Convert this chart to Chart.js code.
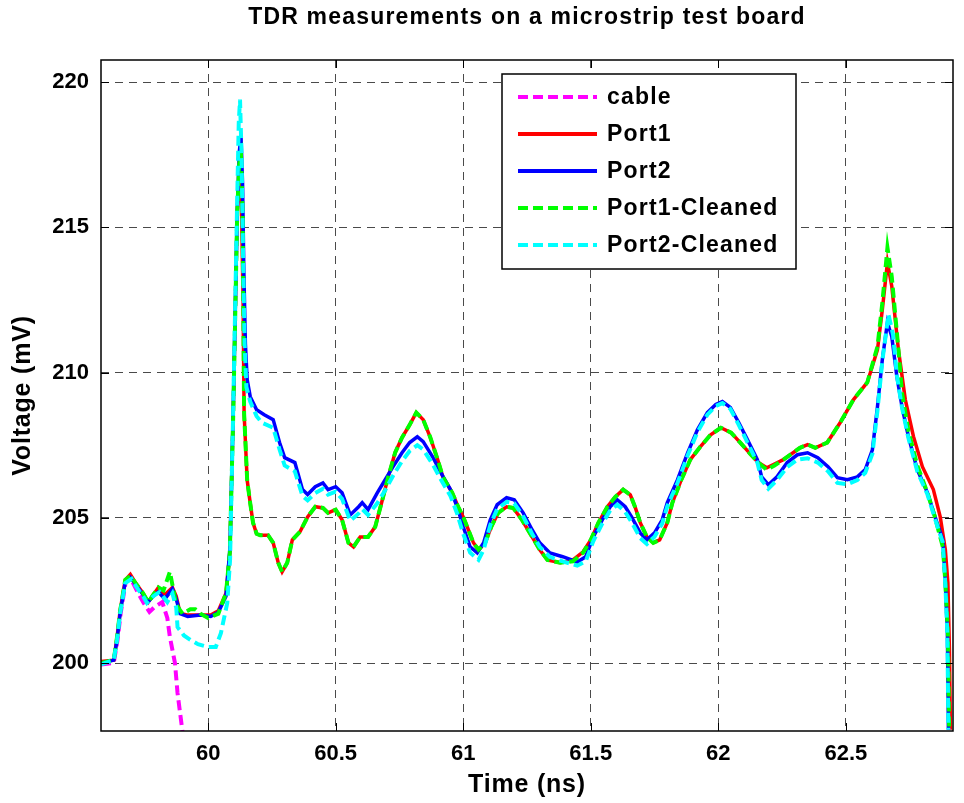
<!DOCTYPE html>
<html lang="en">
<head>
    <meta charset="UTF-8">
    <title>TDR measurements</title>
    <style>
        html, body { margin: 0; padding: 0; background: #fff; }
        #wrap { width: 964px; height: 803px; }
    </style>
</head>
<body>

<div id="wrap">
    <canvas id="myChart" width="964" height="803"></canvas>
</div>

<script src="https://cdn.jsdelivr.net/npm/chart.js@4.4.1/dist/chart.umd.min.js"></script>

<script>
    // values (time in ns, voltage in mV)
    var cableT = [59.58, 59.63, 59.645, 59.657, 59.677, 59.697, 59.72, 59.745, 59.77, 59.79, 59.82, 59.84, 59.85, 59.87, 59.88, 59.90];
    var cableV = [199.95, 200.0, 200.8, 201.7, 202.8, 202.9, 202.5, 202.1, 201.76, 201.93, 202.1, 201.55, 200.9, 200.0, 198.97, 197.6];

    var port1T = [59.58, 59.63, 59.643, 59.655, 59.675, 59.695, 59.72, 59.745, 59.765, 59.785, 59.805, 59.83, 59.86, 59.875, 59.89, 59.92, 59.97, 60.01, 60.04, 60.07,
        60.085, 60.098, 60.106, 60.114, 60.122, 60.13, 60.137, 60.141, 60.153, 60.165, 60.176, 60.19, 60.204, 60.235, 60.255, 60.275, 60.29, 60.31, 60.33, 60.36,
        60.39, 60.42, 60.45, 60.47, 60.5, 60.525, 60.55, 60.57, 60.596, 60.627, 60.655, 60.68, 60.706, 60.733, 60.76, 60.79, 60.816, 60.843, 60.87, 60.9,
        60.92, 60.957, 60.98, 61.0, 61.02, 61.04, 61.06, 61.086, 61.11, 61.137, 61.17, 61.196, 61.23, 61.27, 61.3, 61.33, 61.38, 61.43, 61.47, 61.5,
        61.53, 61.565, 61.596, 61.627, 61.655, 61.675, 61.694, 61.72, 61.745, 61.77, 61.8, 61.82, 61.855, 61.89, 61.93, 61.97, 62.01, 62.05, 62.086, 62.125,
        62.157, 62.19, 62.22, 62.255, 62.32, 62.35, 62.38, 62.427, 62.478, 62.53, 62.584, 62.624, 62.643, 62.663, 62.68, 62.706, 62.733, 62.765, 62.8, 62.843,
        62.87, 62.89, 62.9, 62.906, 62.91];
    var port1V = [200.05, 200.1, 200.9, 201.8, 202.86, 203.05, 202.7, 202.4, 202.1, 202.35, 202.6, 202.35, 202.6, 202.3, 201.72, 201.65, 201.65, 201.65, 201.8, 202.4,
        203.8, 208.4, 211.9, 215.5, 217.0, 216.0, 212.5, 208.6, 206.3, 205.5, 204.83, 204.45, 204.4, 204.4, 204.14, 203.45, 203.14, 203.45, 204.24, 204.52,
        205.03, 205.38, 205.34, 205.17, 205.28, 204.93, 204.14, 204.0, 204.34, 204.34, 204.69, 205.52, 206.41, 207.24, 207.76, 208.2, 208.62, 208.38, 207.79, 207.0,
        206.41, 205.86, 205.38, 205.03, 204.59, 204.14, 203.9, 204.14, 204.69, 205.17, 205.38, 205.34, 204.93, 204.34, 203.9, 203.55, 203.45, 203.55, 203.83, 204.24,
        204.83, 205.38, 205.72, 205.97, 205.79, 205.34, 204.83, 204.34, 204.14, 204.24, 204.83, 205.52, 206.31, 207.0, 207.45, 207.86, 208.1, 207.93, 207.59, 207.2,
        206.9, 206.72, 206.85, 207.0, 207.41, 207.52, 207.41, 207.59, 208.28, 209.07, 209.66, 210.79, 212.17, 213.79, 212.97, 210.79, 209.07, 207.8, 206.76, 205.97,
        205.03, 203.9, 202.76, 200.45, 197.7];

    var port2T = [59.58, 59.63, 59.643, 59.655, 59.675, 59.695, 59.72, 59.745, 59.765, 59.785, 59.805, 59.83, 59.86, 59.875, 59.89, 59.92, 59.97, 60.01, 60.04, 60.07,
        60.086, 60.098, 60.106, 60.114, 60.122, 60.129, 60.135, 60.14, 60.146, 60.153, 60.165, 60.19, 60.22, 60.255, 60.28, 60.3, 60.34, 60.37, 60.39, 60.42,
        60.45, 60.47, 60.5, 60.525, 60.557, 60.59, 60.604, 60.627, 60.663, 60.694, 60.725, 60.76, 60.79, 60.82, 60.843, 60.88, 60.91, 60.95, 60.976, 61.0,
        61.027, 61.055, 61.08, 61.106, 61.133, 61.17, 61.2, 61.235, 61.27, 61.3, 61.34, 61.39, 61.447, 61.48, 61.51, 61.545, 61.576, 61.604, 61.635, 61.66,
        61.694, 61.72, 61.75, 61.78, 61.8, 61.84, 61.88, 61.918, 61.957, 61.99, 62.016, 62.047, 62.08, 62.114, 62.153, 62.17, 62.196, 62.23, 62.27, 62.31,
        62.35, 62.39, 62.43, 62.467, 62.506, 62.545, 62.576, 62.604, 62.624, 62.643, 62.663, 62.68, 62.7, 62.72, 62.745, 62.78, 62.82, 62.85, 62.88, 62.89,
        62.898, 62.902];
    var port2V = [200.0, 200.1, 200.8, 201.7, 202.8, 202.95, 202.65, 202.35, 202.1, 202.3, 202.45, 202.2, 202.55, 202.2, 201.7, 201.6, 201.65, 201.6, 201.75, 202.3,
        204.0, 208.6, 212.07, 215.5, 217.6, 218.1, 216.5, 213.5, 211.0, 209.76, 209.17, 208.72, 208.55, 208.38, 207.59, 207.07, 206.9, 205.97, 205.8, 206.07,
        206.2, 205.97, 206.07, 205.86, 205.1, 205.38, 205.52, 205.28, 205.86, 206.31, 206.76, 207.24, 207.59, 207.79, 207.62, 207.1, 206.59, 205.97, 205.38, 204.69,
        204.0, 203.79, 204.14, 204.93, 205.45, 205.69, 205.62, 205.17, 204.59, 204.14, 203.79, 203.66, 203.48, 203.66, 204.34, 204.93, 205.38, 205.62, 205.38, 205.03,
        204.48, 204.24, 204.48, 204.93, 205.52, 206.31, 207.24, 208.03, 208.62, 208.9, 209.0, 208.8, 208.28, 207.69, 207.0, 206.41, 206.14, 206.41, 206.9, 207.17,
        207.24, 207.07, 206.76, 206.38, 206.31, 206.41, 206.66, 207.34, 208.83, 210.45, 211.72, 211.24, 209.86, 208.83, 207.8, 206.66, 205.86, 205.03, 204.24, 202.76,
        201.03, 197.7];

    var port1cT = [59.58, 59.63, 59.643, 59.655, 59.675, 59.695, 59.72, 59.745, 59.765, 59.785, 59.805, 59.825, 59.85, 59.875, 59.9, 59.93, 59.95, 59.97, 60.0, 60.04,
        60.07, 60.085, 60.098, 60.106, 60.114, 60.122, 60.129, 60.135, 60.141, 60.153, 60.165, 60.176, 60.19, 60.204, 60.235, 60.255, 60.275, 60.29, 60.31, 60.33,
        60.36, 60.39, 60.42, 60.45, 60.47, 60.5, 60.525, 60.55, 60.57, 60.596, 60.627, 60.655, 60.68, 60.706, 60.733, 60.76, 60.79, 60.816, 60.843, 60.87,
        60.9, 60.92, 60.957, 60.98, 61.0, 61.02, 61.04, 61.06, 61.086, 61.11, 61.137, 61.17, 61.196, 61.23, 61.27, 61.3, 61.33, 61.38, 61.43, 61.47,
        61.5, 61.53, 61.565, 61.596, 61.627, 61.655, 61.675, 61.694, 61.72, 61.745, 61.77, 61.8, 61.82, 61.855, 61.89, 61.93, 61.97, 62.01, 62.05, 62.086,
        62.125, 62.157, 62.19, 62.22, 62.255, 62.32, 62.35, 62.38, 62.427, 62.478, 62.53, 62.584, 62.624, 62.643, 62.663, 62.68, 62.706, 62.72, 62.745, 62.78,
        62.82, 62.85, 62.88, 62.89, 62.9, 62.905];
    var port1cV = [200.0, 200.1, 200.9, 201.8, 202.86, 203.0, 202.7, 202.4, 202.1, 202.35, 202.6, 202.5, 203.14, 202.0, 201.7, 201.85, 201.85, 201.7, 201.55, 201.7,
        202.4, 203.8, 208.4, 211.9, 215.5, 217.2, 217.45, 215.5, 208.6, 206.3, 205.5, 204.83, 204.45, 204.4, 204.4, 204.14, 203.45, 203.14, 203.45, 204.24,
        204.52, 205.03, 205.38, 205.34, 205.17, 205.28, 204.93, 204.14, 204.0, 204.34, 204.34, 204.69, 205.52, 206.41, 207.24, 207.76, 208.2, 208.62, 208.38, 207.79,
        207.0, 206.41, 205.86, 205.38, 205.03, 204.59, 204.14, 203.9, 204.14, 204.69, 205.17, 205.38, 205.34, 204.93, 204.34, 203.9, 203.55, 203.45, 203.5, 203.8,
        204.24, 204.83, 205.38, 205.72, 205.97, 205.79, 205.34, 204.83, 204.34, 204.14, 204.24, 204.83, 205.52, 206.31, 207.0, 207.45, 207.86, 208.1, 207.93, 207.59,
        207.2, 206.9, 206.65, 206.8, 207.0, 207.41, 207.52, 207.41, 207.59, 208.28, 209.07, 209.66, 210.9, 212.4, 214.3, 213.3, 210.8, 209.3, 208.0, 206.8,
        205.86, 205.0, 204.0, 202.8, 201.0, 197.7];

    var port2cT = [59.58, 59.63, 59.643, 59.655, 59.675, 59.7, 59.72, 59.745, 59.76, 59.785, 59.81, 59.84, 59.86, 59.875, 59.88, 59.905, 59.93, 59.96, 60.0, 60.03,
        60.05, 60.075, 60.086, 60.098, 60.106, 60.114, 60.12, 60.125, 60.131, 60.137, 60.143, 60.15, 60.165, 60.19, 60.21, 60.255, 60.28, 60.3, 60.34, 60.37,
        60.39, 60.42, 60.45, 60.47, 60.5, 60.525, 60.557, 60.59, 60.604, 60.627, 60.663, 60.694, 60.725, 60.76, 60.79, 60.82, 60.843, 60.88, 60.91, 60.95,
        60.976, 61.0, 61.027, 61.06, 61.08, 61.106, 61.133, 61.17, 61.2, 61.235, 61.27, 61.3, 61.34, 61.39, 61.447, 61.48, 61.51, 61.545, 61.576, 61.604,
        61.635, 61.66, 61.694, 61.72, 61.75, 61.78, 61.8, 61.84, 61.88, 61.918, 61.957, 61.99, 62.016, 62.047, 62.08, 62.114, 62.153, 62.17, 62.196, 62.23,
        62.27, 62.31, 62.35, 62.39, 62.43, 62.467, 62.506, 62.545, 62.576, 62.604, 62.624, 62.643, 62.667, 62.685, 62.7, 62.72, 62.745, 62.78, 62.82, 62.85,
        62.88, 62.89, 62.898, 62.902];
    var port2cV = [199.95, 200.1, 200.8, 201.7, 202.75, 202.9, 202.6, 202.3, 202.07, 202.3, 202.45, 202.1, 202.4, 201.9, 201.24, 200.95, 200.8, 200.65, 200.55, 200.55,
        201.03, 202.07, 203.55, 208.6, 212.3, 216.0, 218.6, 219.4, 217.5, 214.0, 211.0, 209.5, 209.0, 208.5, 208.28, 208.1, 207.35, 206.8, 206.6, 205.75,
        205.6, 205.85, 206.0, 205.8, 205.9, 205.65, 204.9, 205.15, 205.3, 205.1, 205.5, 205.95, 206.45, 206.95, 207.3, 207.5, 207.35, 206.85, 206.35, 205.75,
        205.15, 204.45, 203.8, 203.55, 203.9, 204.75, 205.3, 205.55, 205.5, 205.05, 204.45, 204.0, 203.65, 203.5, 203.35, 203.5, 204.2, 204.8, 205.25, 205.45,
        205.2, 204.85, 204.3, 204.1, 204.35, 204.8, 205.4, 206.2, 207.15, 207.95, 208.55, 208.85, 208.95, 208.75, 208.2, 207.6, 206.9, 206.3, 206.0, 206.3,
        206.75, 207.0, 207.05, 206.9, 206.6, 206.2, 206.15, 206.3, 206.55, 207.2, 208.7, 210.4, 212.0, 211.3, 209.9, 208.8, 207.75, 206.6, 205.8, 204.95,
        204.15, 202.7, 201.0, 197.7];

    var xTicks = [60, 60.5, 61, 61.5, 62, 62.5];
    var yTicks = [200, 205, 210, 215, 220];

    function toPoints(t, v) {
        var pts = [];
        for (var i = 0; i < t.length; i++) {
            pts.push({ x: t[i], y: v[i] });
        }
        return pts;
    }

    var dash = [10, 5];

    var dataSource = {
        datasets: [
            { label: 'cable', data: toPoints(cableT, cableV), borderColor: '#ff00ff', borderWidth: 4, borderDash: dash, order: 4 },
            { label: 'Port1', data: toPoints(port1T, port1V), borderColor: '#ff0000', borderWidth: 3.5, borderDash: [], order: 3 },
            { label: 'Port2', data: toPoints(port2T, port2V), borderColor: '#0000ff', borderWidth: 3.5, borderDash: [], order: 2 },
            { label: 'Port1-Cleaned', data: toPoints(port1cT, port1cV), borderColor: '#00ff00', borderWidth: 4, borderDash: dash, order: 1 },
            { label: 'Port2-Cleaned', data: toPoints(port2cT, port2cV), borderColor: '#00ffff', borderWidth: 4, borderDash: dash, order: 0 }
        ]
    };

    var FONT = "'Liberation Sans', Arial, Helvetica, sans-serif";

    // MATLAB style frame, inward ticks, titles and legend box
    var matlabLook = {
        id: 'matlabLook',
        afterDraw: function (chart) {
            var ctx = chart.ctx;
            var a = chart.chartArea;
            var xs = chart.scales.x, ys = chart.scales.y;
            ctx.save();

            // frame
            ctx.strokeStyle = '#000';
            ctx.lineWidth = 1.5;
            ctx.setLineDash([]);
            ctx.strokeRect(a.left, a.top, a.right - a.left, a.bottom - a.top);

            // inward tick marks
            ctx.lineWidth = 1;
            xTicks.forEach(function (v) {
                var px = Math.round(xs.getPixelForValue(v)) + 0.5;
                ctx.beginPath();
                ctx.moveTo(px, a.bottom); ctx.lineTo(px, a.bottom - 8);
                ctx.moveTo(px, a.top); ctx.lineTo(px, a.top + 8);
                ctx.stroke();
            });
            yTicks.forEach(function (v) {
                var py = Math.round(ys.getPixelForValue(v)) + 0.5;
                ctx.beginPath();
                ctx.moveTo(a.left, py); ctx.lineTo(a.left + 8, py);
                ctx.moveTo(a.right, py); ctx.lineTo(a.right - 8, py);
                ctx.stroke();
            });

            ctx.fillStyle = '#000';
            ctx.textAlign = 'center';
            ctx.textBaseline = 'middle';

            // title
            ctx.font = 'bold 23px ' + FONT;
            ctx.letterSpacing = '1.2px';
            ctx.fillText('TDR measurements on a microstrip test board', (a.left + a.right) / 2, 18);

            // axis titles
            ctx.font = 'bold 25px ' + FONT;
            ctx.letterSpacing = '0.8px';
            ctx.fillText('Time (ns)', (a.left + a.right) / 2, 785);
            ctx.save();
            ctx.translate(23, (a.top + a.bottom) / 2);
            ctx.rotate(-Math.PI / 2);
            ctx.fillText('Voltage (mV)', 0, 0);
            ctx.restore();

            // legend
            var bx = 502, by = 74, bw = 294, bh = 195;
            ctx.fillStyle = '#fff';
            ctx.fillRect(bx, by, bw, bh);
            ctx.strokeStyle = '#000';
            ctx.lineWidth = 1.5;
            ctx.strokeRect(bx, by, bw, bh);
            ctx.font = 'bold 23px ' + FONT;
            ctx.letterSpacing = '1.2px';
            ctx.textAlign = 'left';
            chart.data.datasets.forEach(function (ds, i) {
                var y = 97 + i * 37;
                ctx.strokeStyle = ds.borderColor;
                ctx.lineWidth = 4;
                ctx.setLineDash(ds.borderDash);
                ctx.beginPath();
                ctx.moveTo(518, y); ctx.lineTo(597, y);
                ctx.stroke();
                ctx.setLineDash([]);
                ctx.fillStyle = '#000';
                ctx.fillText(ds.label, 607, y + 1);
            });
            ctx.restore();
        }
    };

    function createChart() {
        var ctx = document.getElementById('myChart').getContext('2d');
        var myChart = new Chart(ctx, {
            type: 'line',
            data: dataSource,
            plugins: [matlabLook],
            options: {
                responsive: false,
                animation: false,
                layout: { padding: { top: 60, right: 11, left: 0, bottom: 0 } },
                elements: {
                    line: { tension: 0, fill: false },
                    point: { radius: 0 }
                },
                plugins: {
                    legend: { display: false },
                    title: { display: false },
                    tooltip: { enabled: false }
                },
                scales: {
                    x: {
                        type: 'linear',
                        min: 59.58,
                        max: 62.92,
                        afterBuildTicks: function (s) { s.ticks = xTicks.map(function (v) { return { value: v }; }); },
                        afterFit: function (s) { s.height = 72; },
                        grid: { color: '#4a4a4a', lineWidth: 1, drawTicks: false },
                        border: { display: false, dash: [8, 6] },
                        ticks: {
                            padding: 10,
                            color: '#000',
                            maxRotation: 0,
                            font: { family: FONT, size: 22, weight: 'bold' },
                            callback: function (v) { return String(v); }
                        },
                        title: { display: false }
                    },
                    y: {
                        min: 197.66,
                        max: 220.76,
                        afterBuildTicks: function (s) { s.ticks = yTicks.map(function (v) { return { value: v }; }); },
                        afterFit: function (s) { s.width = 101; },
                        grid: { color: '#4a4a4a', lineWidth: 1, drawTicks: false },
                        border: { display: false, dash: [8, 6] },
                        ticks: {
                            padding: 12,
                            color: '#000',
                            font: { family: FONT, size: 22, weight: 'bold' },
                            callback: function (v) { return String(v); }
                        },
                        title: { display: false }
                    }
                }
            }
        });
    }

    createChart();
</script>

</body>
</html>
